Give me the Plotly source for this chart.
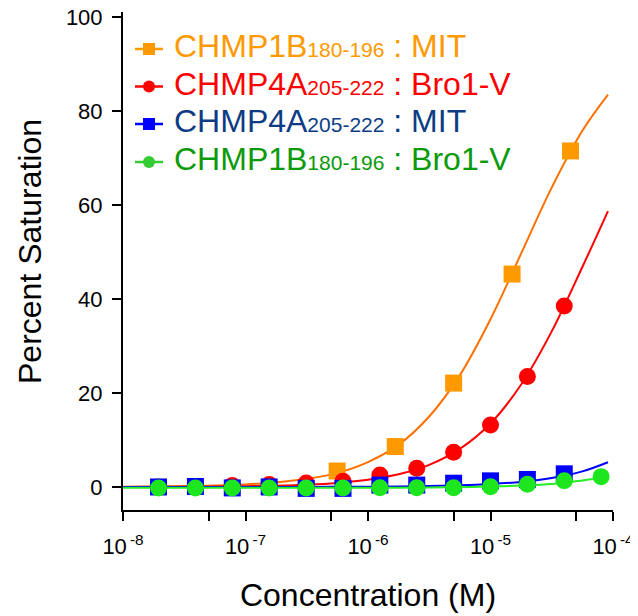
import plotly.graph_objects as go

# ---------------- data ----------------
# 2-fold dilution series (CHMP4A:Bro1-V, CHMP4A:MIT, CHMP1B:Bro1-V)
conc_2fold = [1.95e-8, 3.9e-8, 7.8e-8, 1.56e-7, 3.13e-7, 6.25e-7, 1.25e-6,
              2.5e-6, 5.0e-6, 1.0e-5, 2.0e-5, 4.0e-5, 8.0e-5]
# 3-fold dilution series (CHMP1B:MIT)
conc_3fold = [5.6e-7, 1.67e-6, 5.0e-6, 1.5e-5, 4.5e-5]

sat_1b_mit = [3.4, 8.6, 22.1, 45.3, 71.5]
sat_4a_bro = [0.0, 0.0, 0.3, 0.5, 0.85, 1.2, 2.55, 4.0, 7.4, 13.2, 23.5, 38.5]
sat_4a_mit = [0.0, 0.1, -0.2, 0.0, -0.3, -0.3, 0.4, 0.4, 0.8, 1.3, 1.6, 2.8]
sat_1b_bro = [-0.2, -0.2, -0.2, -0.2, -0.2, -0.2, -0.15, -0.15, -0.15, 0.05,
              0.6, 1.3, 2.2]

# fitted binding curves, sampled along the drawn lines
curve_conc = [1e-8, 1.78e-8, 3.16e-8, 5.62e-8, 1e-7, 1.78e-7, 3.16e-7, 5.62e-7,
              1e-6, 1.78e-6, 3.16e-6, 5.62e-6, 1e-5, 1.78e-5, 3.16e-5, 5.62e-5,
              9.1e-5]
fit_1b_mit = [0.06, 0.1, 0.18, 0.31, 0.55, 0.98, 1.73, 3.0, 5.3, 9.0, 15.0,
              23.8, 35.7, 49.7, 63.7, 75.8, 83.5]
fit_4a_bro = [0.02, 0.03, 0.05, 0.09, 0.16, 0.28, 0.49, 0.87, 1.54, 2.7, 4.7,
              8.1, 13.5, 21.8, 33.1, 46.8, 58.7]
fit_4a_mit = [0.0, 0.0, 0.0, 0.0, 0.01, 0.01, 0.02, 0.03, 0.06, 0.11, 0.19,
              0.34, 0.61, 1.07, 1.89, 3.31, 5.26]
fit_1b_bro = [-0.15, -0.15, -0.15, -0.15, -0.15, -0.15, -0.15, -0.15, -0.15,
              -0.15, -0.12, -0.05, 0.1, 0.3, 0.65, 1.4, 2.15]

x_tickvals = [1e-8, 5e-8, 1e-7, 5e-7, 1e-6, 5e-6, 1e-5, 5e-5, 1e-4]
x_ticktext = ["10<sup>\u2009-8</sup>", "", "10<sup>\u2009-7</sup>", "",
              "10<sup>\u2009-6</sup>", "", "10<sup>\u2009-5</sup>", "",
              "10<sup>\u2009-4</sup>"]
y_tickvals = [0, 20, 40, 60, 80, 100]

x_title = "Concentration (M)"
y_title = "Percent Saturation"
legend_labels = [
    ("CHMP1B", "180-196", " : MIT"),
    ("CHMP4A", "205-222", " : Bro1-V"),
    ("CHMP4A", "205-222", " : MIT"),
    ("CHMP1B", "180-196", " : Bro1-V"),
]

# ---------------- styles ----------------
series = [
    dict(x=conc_3fold, y=sat_1b_mit, fit=fit_1b_mit, sym="square", mc="#FF9900",
         lc="#FF7000", legc="#FF9900", txt="#FF9900"),
    dict(x=conc_2fold[:12], y=sat_4a_bro, fit=fit_4a_bro, sym="circle", mc="#FF0000",
         lc="#FF0000", legc="#FF0000", txt="#FF0000"),
    dict(x=conc_2fold[:12], y=sat_4a_mit, fit=fit_4a_mit, sym="square", mc="#0000FF",
         lc="#0000FF", legc="#0000FF", txt="#0D3C85"),
    dict(x=conc_2fold, y=sat_1b_bro, fit=fit_1b_bro, sym="circle", mc="#1EE61E",
         lc="#22EE22", legc="#33CC33", txt="#0A9A0A"),
]

# the page body adds an 8px margin, so the figure is sized/placed to compensate
OFF = 8
W, H = 630, 608
ML, MR, MT, MB = 115, 25, 4, 106
PW, PH = W - ML - MR, H - MT - MB


def px(xp):  # page pixel -> paper x
    return (xp - OFF - ML) / PW


def py(yp):  # page pixel -> paper y
    return (H - MB - (yp - OFF)) / PH


fig = go.Figure()
for s in series:
    fig.add_trace(go.Scatter(x=curve_conc, y=s["fit"], mode="lines",
                             line=dict(color=s["lc"], width=2, shape="spline"),
                             showlegend=False, hoverinfo="skip"))
    fig.add_trace(go.Scatter(x=s["x"], y=s["y"], mode="markers",
                             marker=dict(symbol=s["sym"], size=17, color=s["mc"],
                                         line=dict(width=0)),
                             showlegend=False, cliponaxis=False))

# legend drawn as keys + text (tight row spacing as in the reference)
font_family = "Liberation Sans, Arial, sans-serif"
row_sym_y = [49, 86.5, 124, 162]
key_x0, key_x1, key_xc, key_half = 135, 163, 149, 6
text_x = 172
shapes = []
annotations = []
for s, (main, sub, tail), yc in zip(series, legend_labels, row_sym_y):
    shapes.append(dict(type="line", xref="paper", yref="paper",
                       x0=px(key_x0), x1=px(key_x1), y0=py(yc), y1=py(yc),
                       line=dict(color=s["legc"], width=2.5)))
    shapes.append(dict(type="rect" if s["sym"] == "square" else "circle",
                       xref="paper", yref="paper",
                       x0=px(key_xc - key_half), x1=px(key_xc + key_half),
                       y0=py(yc + key_half), y1=py(yc - key_half),
                       fillcolor=s["legc"], line=dict(width=0)))
    annotations.append(dict(
        xref="paper", yref="paper", x=px(text_x), y=py(yc - 3),
        xanchor="left", yanchor="middle", showarrow=False,
        text=f'{main}<span style="font-size:21px">{sub}</span>{tail}',
        font=dict(size=32, color=s["txt"], family=font_family)))

# y-axis title as a rotated annotation (precise placement)
annotations.append(dict(
    xref="paper", yref="paper", x=px(30), y=py(252),
    xanchor="center", yanchor="middle", showarrow=False, textangle=-90,
    text=y_title, font=dict(size=32, color="black", family=font_family)))

fig.update_layout(
    width=W, height=H,
    margin=dict(l=ML, r=MR, t=MT, b=MB),
    paper_bgcolor="white", plot_bgcolor="white",
    font=dict(family=font_family, color="black", size=22),
    showlegend=False,
    shapes=shapes, annotations=annotations,
)
fig.update_xaxes(
    type="log", range=[-8, -4], automargin=False,
    tickvals=x_tickvals, ticktext=x_ticktext,
    ticks="outside", ticklen=9, tickwidth=2, tickcolor="black",
    showline=True, linewidth=2, linecolor="black",
    showgrid=False, zeroline=False, ticklabeloverflow="allow",
    tickfont=dict(size=22), ticklabelstandoff=7,
    title=dict(text=x_title, font=dict(size=32), standoff=25),
)
fig.update_yaxes(
    range=[-4.9, 101.06], automargin=False,
    tickvals=y_tickvals,
    ticks="outside", ticklen=9, tickwidth=2, tickcolor="black",
    showline=True, linewidth=2, linecolor="black",
    showgrid=False, zeroline=False, ticklabeloverflow="allow",
    tickfont=dict(size=22), ticklabelstandoff=5,
)

fig.write_html("out.html")
